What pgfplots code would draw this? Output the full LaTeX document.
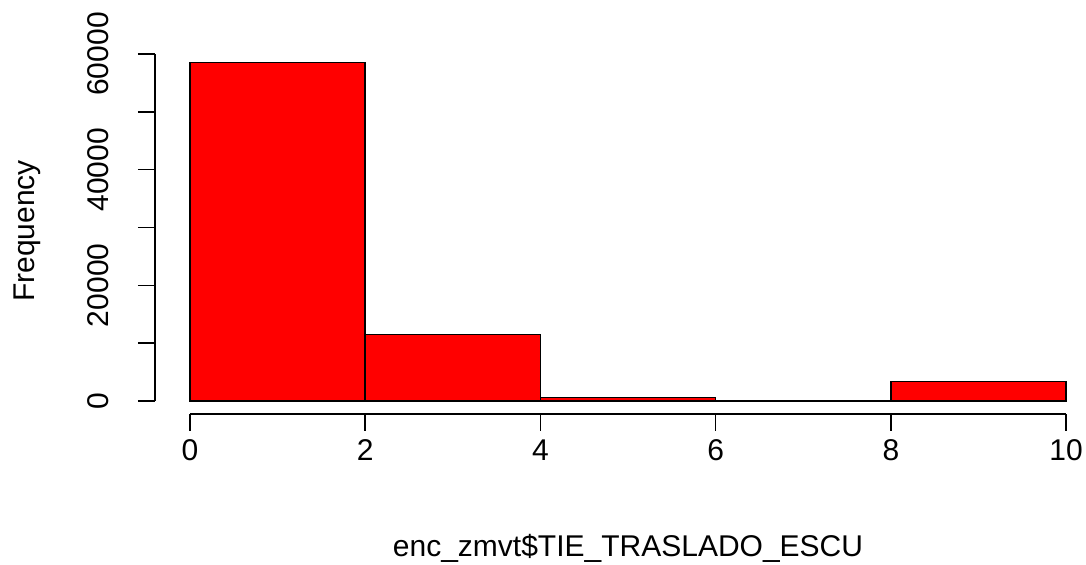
\documentclass[border=0pt]{standalone}
\usepackage{fontspec}
\setmainfont{Liberation Sans}
\usepackage{pgfplots}
\pgfplotsset{compat=1.18}
\begin{document}
\begin{tikzpicture}[font=\fontsize{15}{18}\selectfont]
\begin{axis}[
  scale only axis,
  width=464.28pt, height=185.78pt,
  xmin=-0.4, xmax=10.2,
  ymin=-2250, ymax=62000,
  clip=false,
  axis line style={draw=none},
  xtick pos=bottom, ytick pos=left,
  tick align=outside,
  major tick length=8.5pt,
  tick style={black, line width=0.75pt},
  xtick={0,2,4,6,8,10},
  xticklabels={0,2,4,6,8,10},
  ytick={0,10000,20000,30000,40000,50000,60000},
  yticklabels={0,,20000,,40000,,60000},
  scaled y ticks=false,
  xticklabel style={inner sep=0pt, anchor=north},
  xticklabel shift=4pt,
  yticklabel style={rotate=90, anchor=base},
  yticklabel shift=14.5pt,
  /pgf/number format/assume math mode=true,
  xlabel={enc\_zmvt\$TIE\_TRASLADO\_ESCU},
  ylabel={Frequency},
  xlabel style={at={(axis description cs:0.5094,-0.3848)}, anchor=base},
  ylabel style={at={(axis description cs:-0.1303,0.4926)}, anchor=base, rotate=0},
]
\addplot[ybar interval, fill={rgb,255:red,255;green,0;blue,0}, draw=black, line width=0.75pt]
  coordinates {(0,58570) (2,11530) (4,640) (6,50) (8,3340) (10,3340)};
\draw[black, line width=0.75pt] (axis cs:0,-2250) -- (axis cs:10,-2250);
\draw[black, line width=0.75pt] (axis cs:-0.4,0) -- (axis cs:-0.4,60000);
\coordinate (o) at (rel axis cs:0,0);
\end{axis}
\pgfresetboundingbox
\useasboundingbox (o) ++(-77.5pt,-75.5pt) rectangle ++(543pt,282.5pt);
\end{tikzpicture}
\end{document}
